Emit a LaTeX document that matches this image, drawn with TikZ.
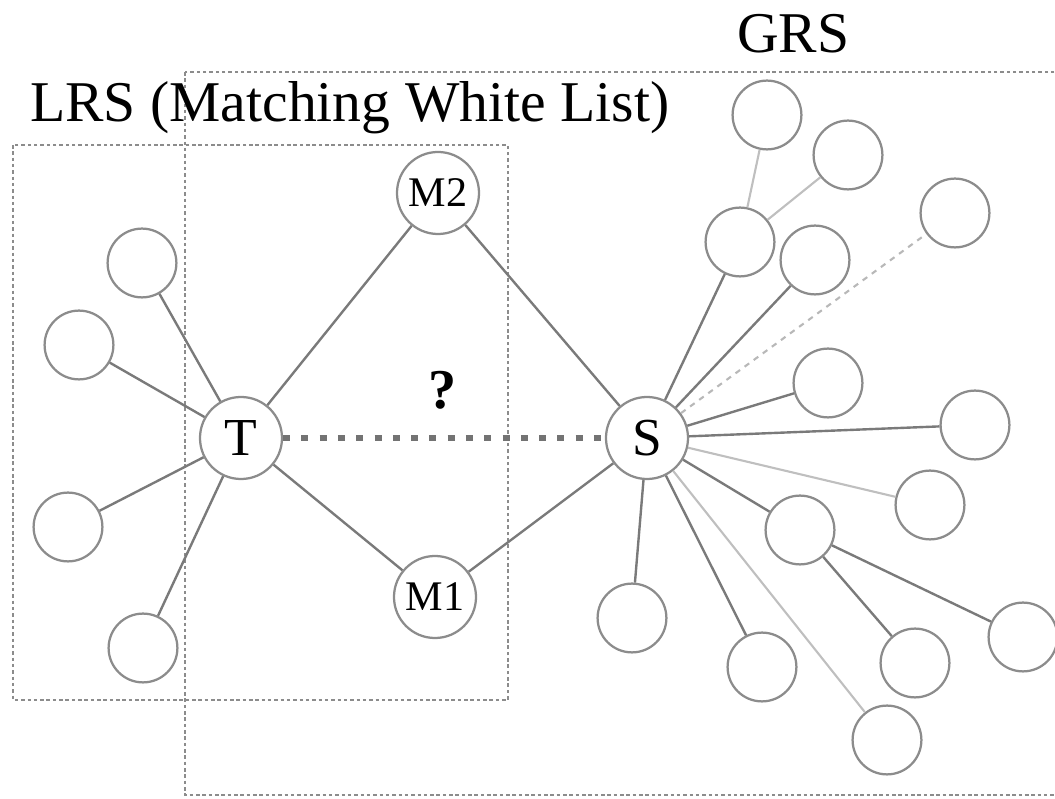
\documentclass[tikz,border=0pt]{standalone}
\usepackage{fontspec}
\setmainfont{Liberation Serif}
\begin{document}
\begin{tikzpicture}[x=0.025cm,y=-0.025cm,
  vtx/.style={circle,draw=black!45,line width=1.6pt,inner sep=0pt,fill=white},
  hub/.style={vtx,minimum size=2.05cm,font=\fontsize{38}{38}\selectfont},
  mid/.style={vtx,minimum size=2.05cm,font=\fontsize{30}{30}\selectfont},
  leaf/.style={vtx,minimum size=1.72cm},
  link/.style={draw=black!52,line width=1.7pt},
  faint/.style={draw=black!25,line width=1.5pt},
  faintdot/.style={draw=black!28,line width=1.5pt,dash pattern=on 4pt off 4pt},
  query/.style={draw=black!55,line width=3.6pt,dash pattern=on 5pt off 8pt},
  region/.style={draw=black!45,line width=1.6pt,dash pattern=on 2.5pt off 2pt},
  title/.style={inner sep=0pt,anchor=base west,font=\fontsize{41}{41}\selectfont}]
\useasboundingbox (0,0) rectangle (1055,799);
\clip (0,0) rectangle (1055,799);

% region boxes
\draw[region] (185,72) rectangle (1080,795);
\draw[region] (13,145) rectangle (508,700);
\node[title] (lrs) at (30,122) {LRS (Matching White List)};
\node[title] (grs) at (737,53) {GRS};

% central vertices
\node[hub] (T) at (241,438) {T};
\node[hub] (S) at (647,438) {S};
\node[mid] (M2) at (438,193) {M2};
\node[mid] (M1) at (435,597) {M1};

% leaves around T
\node[leaf] (l1) at (142,263) {};
\node[leaf] (l2) at (79,345) {};
\node[leaf] (l3) at (68,527) {};
\node[leaf] (l4) at (143,648) {};

% leaves around S
\node[leaf] (r1) at (767,115) {};
\node[leaf] (r2) at (848,155) {};
\node[leaf] (r3) at (740,242) {};
\node[leaf] (r4) at (815,260) {};
\node[leaf] (r5) at (955,213) {};
\node[leaf] (r6) at (828,383) {};
\node[leaf] (r7) at (975,425) {};
\node[leaf] (r8) at (930,505) {};
\node[leaf] (r9) at (800,530) {};
\node[leaf] (r10) at (1023,637) {};
\node[leaf] (r11) at (915,663) {};
\node[leaf] (r12) at (632,618) {};
\node[leaf] (r13) at (762,667) {};
\node[leaf] (r14) at (887,740) {};

% connectors
\draw[link] (T) -- (M2);
\draw[link] (T) -- (M1);
\draw[link] (M2) -- (S);
\draw[link] (M1) -- (S);
\draw[query] (T) -- (S);
\node[inner sep=0pt,font=\fontsize{40}{40}\selectfont\bfseries] (q) at (443,390) {?};

\draw[link] (T) -- (l1);
\draw[link] (T) -- (l2);
\draw[link] (T) -- (l3);
\draw[link] (T) -- (l4);

\draw[link] (S) -- (r3);
\draw[link] (S) -- (r4);
\draw[faintdot] (S) -- (r5);
\draw[link] (S) -- (r6);
\draw[link] (S) -- (r7);
\draw[faint] (S) -- (r8);
\draw[link] (S) -- (r9);
\draw[link] (S) -- (r12);
\draw[link] (S) -- (r13);
\draw[faint] (S) -- (r14);
\draw[faint] (r3) -- (r1);
\draw[faint] (r3) -- (r2);
\draw[link] (r9) -- (r10);
\draw[link] (r9) -- (r11);
\end{tikzpicture}
\end{document}
